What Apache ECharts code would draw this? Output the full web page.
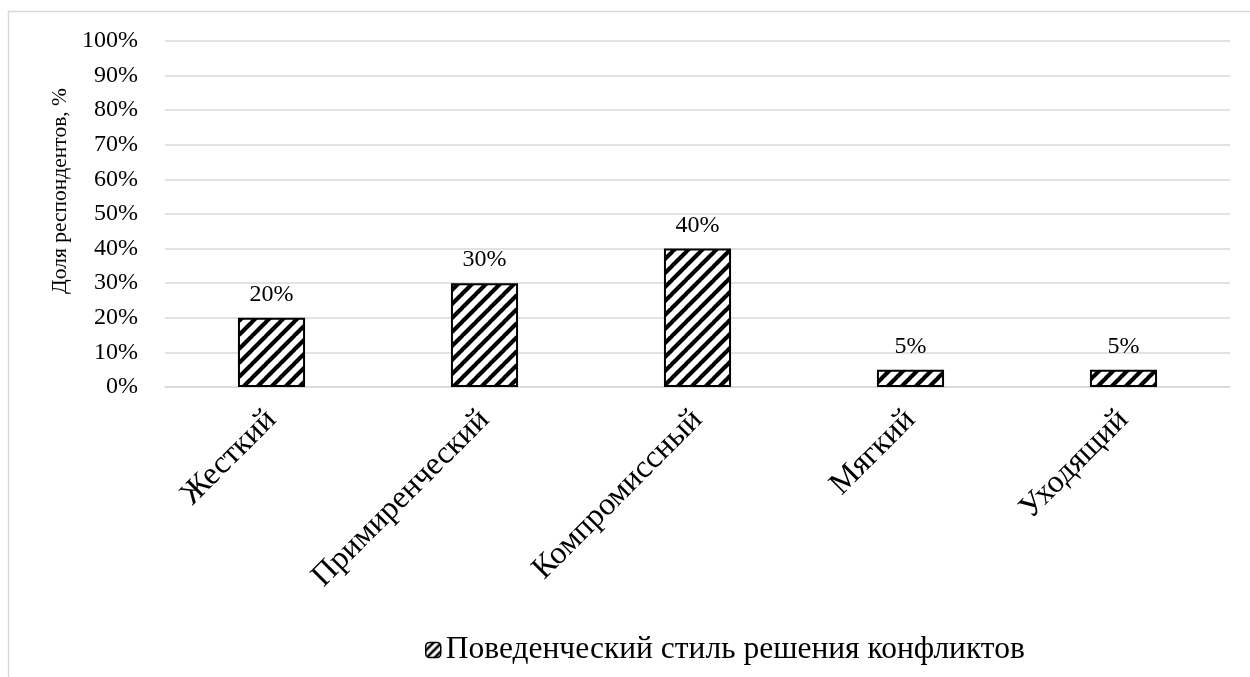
<!DOCTYPE html>
<html>
<head>
<meta charset="utf-8">
<script src="https://cdn.jsdelivr.net/npm/echarts@6/dist/echarts.min.js"></script>
<style>
  html, body { margin: 0; padding: 0; background: #fff; }
  #chart { width: 1250px; height: 677px; }
</style>
</head>
<body>
<div id="chart"></div>
<script>
// Conflict-resolution styles and share of respondents (%)
const categories = ['Жесткий', 'Примиренческий', 'Компромиссный', 'Мягкий', 'Уходящий'];
const shares = [20, 30, 40, 5, 5];
const seriesName = 'Поведенческий стиль решения конфликтов';
const axisTitle = 'Доля респондентов, %';

const FONT = '"Liberation Serif", "Times New Roman", serif';

// Diagonal hatch pattern tile (black stripes on white)
function makeHatch(size, width) {
  const c = document.createElement('canvas');
  c.width = size; c.height = size;
  const g = c.getContext('2d');
  g.fillStyle = '#fff';
  g.fillRect(0, 0, size, size);
  g.strokeStyle = '#000';
  g.lineWidth = width;
  g.beginPath();
  for (let k = -1; k <= 1; k++) {
    g.moveTo(k * size - 1, size + 1);
    g.lineTo(k * size + size + 1, -1);
  }
  g.stroke();
  return c;
}
const hatch = makeHatch(14, 4.2);
const hatchSmall = makeHatch(8, 2.6);

const chart = echarts.init(document.getElementById('chart'), null, { renderer: 'canvas' });

chart.setOption({
  animation: false,
  backgroundColor: '#fff',
  graphic: [
    {
      type: 'rect',
      shape: { x: 8.5, y: 11.5, width: 1260, height: 700 },
      style: { fill: 'none', stroke: '#d9d9d9', lineWidth: 1.5 },
      silent: true, z: -10
    },
    {
      type: 'text',
      left: 49, top: 88,
      rotation: Math.PI / 2,
      style: { text: axisTitle, font: '21.5px ' + FONT, fill: '#000' },
      originX: 0, originY: 0
    }
  ],
  grid: { left: 165, right: 20, top: 41, bottom: 290 },
  legend: {
    left: 425, top: 634,
    padding: 0,
    itemWidth: 15, itemHeight: 15,
    itemGap: 8,
    data: [{ name: seriesName, itemStyle: { color: { image: hatchSmall, repeat: 'repeat' }, borderColor: '#000', borderWidth: 1.5 } }],
    textStyle: { fontFamily: FONT, fontSize: 31.5, color: '#000' }
  },
  xAxis: {
    type: 'category',
    data: categories,
    axisLine: { lineStyle: { color: '#d9d9d9', width: 1.5 } },
    axisTick: { show: false },
    axisLabel: { rotate: 45, fontFamily: FONT, fontSize: 32, color: '#000', margin: 28, interval: 0 }
  },
  yAxis: {
    type: 'value',
    min: 0, max: 100, interval: 10,
    axisLine: { show: false },
    axisTick: { show: false },
    splitLine: { lineStyle: { color: '#d9d9d9', width: 1.5 } },
    axisLabel: { formatter: '{value}%', fontFamily: FONT, fontSize: 24, color: '#000', margin: 27 }
  },
  series: [{
    name: seriesName,
    type: 'bar',
    data: shares,
    barWidth: '31.5%',
    itemStyle: {
      color: { image: hatch, repeat: 'repeat' },
      borderColor: '#000',
      borderWidth: 2
    },
    label: {
      show: true, position: 'top', distance: 11,
      formatter: '{c}%',
      fontFamily: FONT, fontSize: 24, color: '#000'
    }
  }]
});
</script>
</body>
</html>
